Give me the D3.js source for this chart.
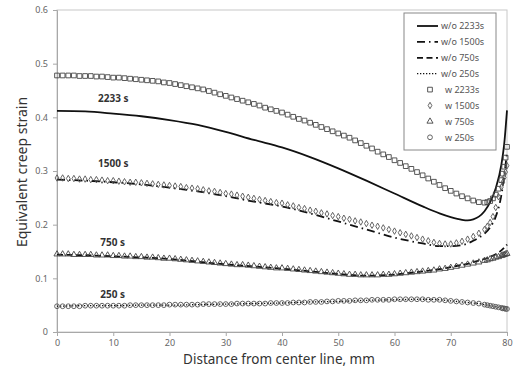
<!DOCTYPE html>
<html><head><meta charset="utf-8">
<script src="https://cdn.jsdelivr.net/npm/d3@7"></script>
<style>body{margin:0;background:#fff}svg{display:block}</style>
</head><body>
<svg id="c" width="523" height="373"></svg>
<script>
// ---------- data ----------
const xTicks = [0,10,20,30,40,50,60,70,80];
const yTicks = [0,0.1,0.2,0.3,0.4,0.5,0.6];

// marker positions (mm)
const markerX = [0,1,2,3,4,5,6,7,8,9,10,11,12,13,14,15,16,17,18,19,20,21,22,23,24,25,26,27,28,29,30,
  31,32,33,34,35,36,37,38,39,40,41,42,43,44,45,46,47,48,49,50,51,52,53,54,55,56,57,58,59,60,
  61,62,63,64,65,66,67,68,69,70,71,72,73,74,75,76,76.5,77,77.5,78,78.5,79,79.25,79.5,79.75,80];

const w2233 = [0.478,0.478,0.478,0.478,0.477,0.477,0.477,0.476,0.476,0.475,0.474,0.474,0.473,0.472,0.471,0.470,0.469,0.468,0.467,0.465,0.464,
  0.462,0.460,0.458,0.456,0.454,0.452,0.449,0.446,0.443,0.440,0.437,0.434,0.431,0.428,0.425,0.422,0.418,0.415,0.412,0.409,
  0.405,0.401,0.397,0.394,0.390,0.386,0.382,0.378,0.374,0.370,0.366,0.362,0.357,0.352,0.347,0.342,0.336,0.331,0.326,0.320,
  0.315,0.309,0.304,0.298,0.292,0.286,0.280,0.274,0.268,0.263,0.258,0.253,0.249,0.245,0.242,
  0.241,0.242,0.244,0.249,0.256,0.267,0.283,0.295,0.308,0.325,0.345];
const w1500 = [0.287,0.287,0.286,0.286,0.285,0.285,0.284,0.284,0.283,0.282,0.282,0.281,0.280,0.279,0.279,0.278,0.277,0.276,0.275,0.274,0.273,
  0.272,0.271,0.269,0.268,0.267,0.265,0.263,0.262,0.260,0.258,0.257,0.255,0.253,0.251,0.249,0.247,0.245,0.243,0.241,0.240,
  0.237,0.235,0.232,0.230,0.227,0.225,0.222,0.220,0.217,0.215,0.212,0.210,0.207,0.205,0.202,0.199,0.197,0.194,0.191,0.188,
  0.185,0.182,0.179,0.176,0.173,0.170,0.167,0.165,0.164,0.164,0.166,0.169,0.173,0.178,0.184,
  0.191,0.197,0.204,0.215,0.232,0.252,0.270,0.279,0.288,0.298,0.310];
const w750 = [0.145,0.145,0.145,0.144,0.144,0.144,0.144,0.143,0.143,0.143,0.142,0.142,0.141,0.141,0.140,0.140,0.139,0.139,0.138,0.137,0.137,
  0.136,0.135,0.134,0.133,0.132,0.131,0.130,0.129,0.128,0.127,0.126,0.125,0.125,0.124,0.123,0.122,0.121,0.120,0.119,0.119,
  0.118,0.117,0.116,0.115,0.114,0.113,0.112,0.111,0.110,0.109,0.108,0.107,0.107,0.106,0.106,0.106,0.106,0.107,0.107,0.108,
  0.109,0.110,0.111,0.112,0.113,0.114,0.115,0.117,0.118,0.120,0.122,0.124,0.126,0.128,0.130,
  0.133,0.134,0.136,0.137,0.139,0.140,0.142,0.143,0.144,0.145,0.146];
const w250 = [0.048,0.048,0.048,0.048,0.048,0.049,0.049,0.049,0.049,0.049,0.049,0.049,0.049,0.050,0.050,0.050,0.050,0.050,0.050,0.050,0.051,
  0.051,0.051,0.051,0.051,0.051,0.052,0.052,0.052,0.052,0.052,0.052,0.053,0.053,0.053,0.053,0.053,0.053,0.054,0.054,0.054,
  0.054,0.055,0.055,0.055,0.056,0.056,0.056,0.057,0.057,0.058,0.058,0.058,0.059,0.059,0.059,0.060,0.060,0.060,0.060,0.061,
  0.061,0.061,0.061,0.061,0.061,0.060,0.060,0.060,0.059,0.058,0.057,0.056,0.055,0.054,0.053,
  0.051,0.050,0.049,0.048,0.047,0.046,0.045,0.044,0.044,0.043,0.043];

// line series (without)
const lineX = [0,5,10,15,20,25,30,35,40,45,50,55,60,65,68,70,72,73,74,75,76,77,78,79,79.5,80];
const wo2233 = [0.412,0.411,0.407,0.402,0.395,0.386,0.373,0.358,0.344,0.326,0.305,0.282,0.258,0.234,0.221,0.214,0.209,0.208,0.210,0.215,0.225,0.242,0.268,0.312,0.350,0.413];
const wo1500 = [0.284,0.282,0.279,0.275,0.269,0.262,0.253,0.243,0.234,0.221,0.206,0.191,0.176,0.165,0.160,0.160,0.162,0.165,0.170,0.176,0.183,0.195,0.215,0.255,0.290,0.335];
const wo750  = [0.144,0.143,0.141,0.139,0.136,0.131,0.126,0.122,0.118,0.113,0.108,0.105,0.107,0.113,0.117,0.121,0.125,0.127,0.130,0.133,0.136,0.140,0.145,0.152,0.157,0.163];
const wo250  = [0.048,0.049,0.049,0.050,0.050,0.051,0.052,0.053,0.054,0.056,0.057,0.059,0.060,0.061,0.060,0.058,0.056,0.055,0.054,0.053,0.051,0.049,0.047,0.045,0.044,0.043];

const legendLabels = ["w/o 2233s","w/o 1500s","w/o 750s","w/o 250s","w 2233s","w 1500s","w 750s","w 250s"];
const annotations = [{t:"2233 s", x:7.3, y:0.428},{t:"1500 s", x:7.3, y:0.307},{t:"750 s", x:7.7, y:0.160},{t:"250 s", x:7.7, y:0.063}];

// ---------- drawing ----------
const svg = d3.select("#c");
const L=57, R=507, T=10, B=332;
const x = d3.scaleLinear().domain([0,80]).range([L,R]);
const y = d3.scaleLinear().domain([0,0.6]).range([B,T]);
const font = "'Noto Sans', 'Open Sans', sans-serif";

// plot border
svg.append("rect").attr("x",L).attr("y",T).attr("width",R-L).attr("height",B-T)
  .attr("fill","none").attr("stroke","#c8c8c8").attr("stroke-width",1);

const xa = svg.append("g").attr("transform",`translate(0,${B})`)
  .call(d3.axisBottom(x).tickValues(xTicks).tickSize(4).tickPadding(4).tickFormat(d3.format("d")));
const ya = svg.append("g").attr("transform",`translate(${L},0)`)
  .call(d3.axisLeft(y).tickValues(yTicks).tickSize(4).tickPadding(5).tickFormat(d=>d===0?"0":d3.format(".1f")(d)));
[xa,ya].forEach(g=>{
  g.selectAll("path,line").attr("stroke","#a8a8a8");
  g.selectAll("text").attr("fill","#666").style("font-family",font).style("font-size","9px");
});

// lines
const lineGen = arr => d3.line().x((d,i)=>x(lineX[i])).y((d)=>y(d)).curve(d3.curveMonotoneX)(arr);
const lineStyles = [
  {d:wo2233, dash:null, w:1.8},
  {d:wo1500, dash:"8,4,1.5,4", w:1.8},
  {d:wo750, dash:"6,3.5", w:1.8},
  {d:wo250, dash:"1.3,1.7", w:1.3}
];
lineStyles.forEach(s=>{
  svg.append("path").attr("d",lineGen(s.d)).attr("fill","none").attr("stroke","#111")
    .attr("stroke-width",s.w).attr("stroke-dasharray",s.dash);
});

// marker symbols
const sym = {
  square: d3.symbol().type(d3.symbolSquare).size(22)(),
  diamond: d3.symbol().type(d3.symbolDiamond).size(12)(),
  triangle: d3.symbol().type(d3.symbolTriangle).size(16)(),
  circle: d3.symbol().type(d3.symbolCircle).size(18)()
};
const markerSets = [
  {d:w2233, s:"square", c:"#444"},
  {d:w1500, s:"diamond", c:"#555"},
  {d:w750, s:"triangle", c:"#444"},
  {d:w250, s:"circle", c:"#555"}
];
markerSets.forEach(m=>{
  svg.append("g").selectAll("path").data(m.d).join("path")
    .attr("d",sym[m.s])
    .attr("transform",(d,i)=>`translate(${x(markerX[i])},${y(d)})`)
    .attr("fill","none").attr("stroke",m.c).attr("stroke-width",0.9);
});

// annotations
svg.append("g").selectAll("text").data(annotations).join("text")
  .attr("x",d=>x(d.x)).attr("y",d=>y(d.y)).text(d=>d.t)
  .attr("fill","#333").style("font-family",font).style("font-size","10px").style("font-weight","bold");

// axis titles
svg.append("text").attr("x",279).attr("y",364).attr("text-anchor","middle")
  .attr("fill","#333").style("font-family",font).style("font-size","13.5px").text("Distance from center line, mm");
svg.append("text").attr("transform","translate(27,172) rotate(-90)").attr("text-anchor","middle")
  .attr("fill","#333").style("font-family",font).style("font-size","14px").text("Equivalent creep strain");

// legend
const lg = svg.append("g");
lg.append("rect").attr("x",404).attr("y",13).attr("width",92).attr("height",137)
  .attr("fill","#fff").attr("stroke","#888").attr("stroke-width",1);
const ly = i => 26 + i*15.9;
lineStyles.forEach((s,i)=>{
  lg.append("line").attr("x1",417).attr("x2",438).attr("y1",ly(i)).attr("y2",ly(i))
    .attr("stroke","#111").attr("stroke-width",s.w).attr("stroke-dasharray",s.dash);
});
markerSets.forEach((m,i)=>{
  lg.append("path").attr("d",sym[m.s]).attr("transform",`translate(430,${ly(i+4)})`)
    .attr("fill","none").attr("stroke",m.c).attr("stroke-width",0.9);
});
lg.selectAll("text").data(legendLabels).join("text")
  .attr("x",(d,i)=>i<4?441:445).attr("y",(d,i)=>ly(i)+3.2).text(d=>d)
  .attr("fill","#555").style("font-family",font).style("font-size","9px");
</script>
</body></html>
